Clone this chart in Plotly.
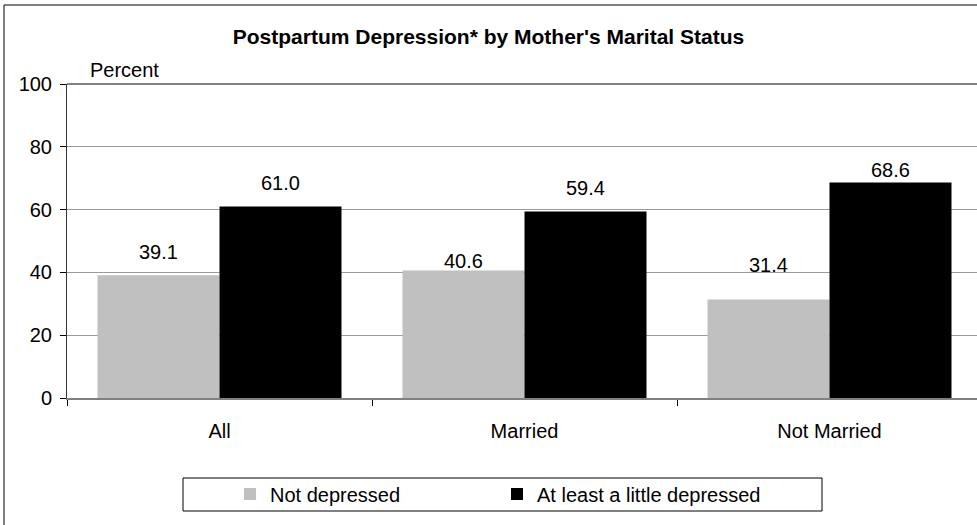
import plotly.graph_objects as go

categories = ["All", "Married", "Not Married"]
not_depressed = [39.1, 40.6, 31.4]
depressed = [61.0, 59.4, 68.6]
series_names = ["Not depressed", "At least a little depressed"]
y_ticks = [0, 20, 40, 60, 80, 100]

# label vertical offsets (px) as drawn in the original
shift_nd = [23, 10, 34]
shift_d = [23, 23, 13]

FONT = "Liberation Sans, Arial, sans-serif"
FS = 20
L, R_EDGE, T, B = 67, 977, 84, 398
W, H = 977, 525
pw = R_EDGE - L
ph = B - T

fig = go.Figure()
fig.add_trace(go.Bar(x=categories, y=not_depressed, name=series_names[0],
                     marker=dict(color="#C0C0C0", line=dict(width=0))))
fig.add_trace(go.Bar(x=categories, y=depressed, name=series_names[1],
                     marker=dict(color="#000000", line=dict(width=0))))

annotations = []
for i, c in enumerate(categories):
    annotations.append(dict(x=c, y=not_depressed[i], xref="x", yref="y",
                            text=f"{not_depressed[i]:.1f}", showarrow=False,
                            xshift=-61, yshift=shift_nd[i],
                            font=dict(family=FONT, size=FS, color="#000")))
    annotations.append(dict(x=c, y=depressed[i], xref="x", yref="y",
                            text=f"{depressed[i]:.1f}", showarrow=False,
                            xshift=61, yshift=shift_d[i],
                            font=dict(family=FONT, size=FS, color="#000")))

annotations.append(dict(x=(88 - L) / pw, y=(B - 70) / ph, xref="paper", yref="paper",
                        text="Percent", showarrow=False, xanchor="left", yanchor="middle",
                        font=dict(family=FONT, size=FS, color="#000")))

shapes = [
    # outer border
    dict(type="rect", xref="paper", yref="paper",
         x0=(4 - L) / pw, x1=(W + 10 - L) / pw,
         y0=(B - (H + 10)) / ph, y1=(B - 5) / ph,
         line=dict(color="#000", width=1), fillcolor="rgba(0,0,0,0)", layer="below"),
    # legend box
    dict(type="rect", xref="paper", yref="paper",
         x0=(183 - L) / pw, x1=(822 - L) / pw,
         y0=(B - 511) / ph, y1=(B - 478) / ph,
         line=dict(color="#000", width=1), fillcolor="rgba(0,0,0,0)"),
    # top plot border line
    dict(type="line", xref="paper", yref="paper", x0=0, x1=1.01, y0=1, y1=1,
         line=dict(color="#808080", width=2)),
]

fig.update_layout(
    width=W, height=H,
    margin=dict(l=L, r=W - R_EDGE, t=T, b=H - B, pad=0),
    paper_bgcolor="white", plot_bgcolor="white",
    barmode="group", bargap=0.2, bargroupgap=0,
    title=dict(text="<b>Postpartum Depression* by Mother's Marital Status</b>",
               x=0.5, xanchor="center", y=1 - 37 / H, yanchor="middle",
               font=dict(family=FONT, size=21, color="#000")),
    font=dict(family=FONT, size=FS, color="#000"),
    xaxis=dict(type="category", range=[-0.5, -0.5 + pw / 305.0],
               showline=True, linecolor="#808080", linewidth=2,
               ticks="outside", tickson="boundaries", ticklen=6, tickcolor="#000",
               ticklabelstandoff=14,
               tickfont=dict(family=FONT, size=FS, color="#000"),
               showgrid=False, zeroline=False),
    yaxis=dict(range=[0, 100], tickvals=y_ticks, ticktext=[str(v) for v in y_ticks],
               showline=True, linecolor="#333", linewidth=1,
               ticks="outside", ticklen=6, tickcolor="#000",
               ticklabelstandoff=4,
               tickfont=dict(family=FONT, size=FS, color="#000"),
               showgrid=True, gridcolor="#9a9a9a", gridwidth=1, zeroline=False),
    showlegend=True,
    legend=dict(orientation="h", x=(230 - L) / pw, xanchor="left",
                y=(B - 494) / ph, yanchor="middle",
                entrywidth=222, entrywidthmode="pixels",
                font=dict(family=FONT, size=FS, color="#000"),
                bgcolor="rgba(0,0,0,0)", borderwidth=0, traceorder="normal"),
    annotations=annotations,
    shapes=shapes,
)

fig.write_html("out.html", config={"displayModeBar": False},
               post_script="document.body.style.margin='0';document.body.style.padding='0';")
